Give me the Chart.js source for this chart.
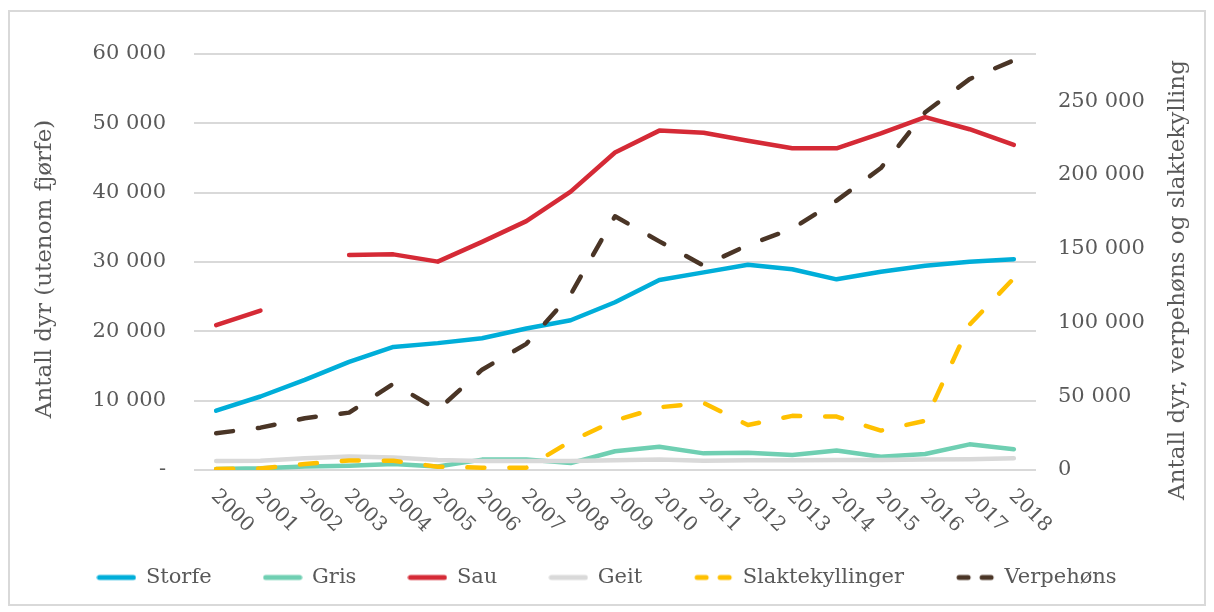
<!DOCTYPE html>
<html>
<head>
<meta charset="utf-8">
<script src="https://cdn.jsdelivr.net/npm/chart.js@4/dist/chart.umd.min.js"></script>
<style>
  html,body{margin:0;padding:0;background:#fff;}
  #wrap{position:relative;width:1214px;height:612px;}
</style>
</head>
<body>
<div id="wrap"><canvas id="chart" width="1214" height="612"></canvas></div>
<script>

// data
const years = ['2000','2001','2002','2003','2004','2005','2006','2007','2008','2009',
  '2010','2011','2012','2013','2014','2015','2016','2017','2018'];

const storfe = [8550,10600,13000,15600,17750,18300,19000,20400,21600,24200,
  27400,28500,29600,28950,27500,28600,29450,30050,30400];

const gris = [150,250,500,620,870,500,1500,1500,1000,2700,
  3350,2400,2500,2150,2800,1900,2300,3700,3000];

const sau = [20900,23000,null,31000,31100,30050,32900,35900,40150,45800,
  48950,48650,47500,46400,46400,48550,50900,49150,46900];

const geit = [1300,1350,1700,1950,1800,1450,1300,1300,1300,1400,
  1500,1350,1400,1400,1450,1450,1500,1550,1700];

const slaktekyllinger = [700,1000,4000,6500,6200,2200,1600,1600,19500,33500,
  42500,45500,30500,36700,36200,26700,33400,98500,130000];

const verpehons = [24900,28700,35100,38900,58500,40700,68000,85500,119000,172000,
  155000,138500,152500,163500,182600,204700,242500,265000,277700];

const leftTicks = [0,10000,20000,30000,40000,50000,60000];
const rightTicks = [0,50000,100000,150000,200000,250000];

const leftTitle = 'Antall dyr (utenom fjørfe)';
const rightTitle = 'Antall dyr, verpehøns og slaktekylling';

const FONT = 'DejaVu Serif';
const TEXT = '#595959';

function fmt(v){
  return String(v).replace(/\B(?=(\d{3})+(?!\d))/g,' ');
}

// little picture for the legend: solid line or two dashes
function sample(color,dashed){
  const c = document.createElement('canvas');
  c.width = 40;
  c.height = 8;
  const g = c.getContext('2d');
  g.strokeStyle = color;
  g.lineWidth = 5;
  g.lineCap = 'round';
  g.beginPath();
  if(dashed){
    g.moveTo(4,4); g.lineTo(13,4);
    g.moveTo(27,4); g.lineTo(36,4);
  }else{
    g.moveTo(3,4); g.lineTo(37,4);
  }
  g.stroke();
  return c;
}

function line(label,data,color,axis,order,dashed){
  return {
    label:label,
    data:data,
    yAxisID:axis,
    borderColor:color,
    backgroundColor:color,
    borderWidth:4.5,
    borderCapStyle:'round',
    borderJoinStyle:'round',
    borderDash:dashed ? [17,25] : [],
    pointRadius:0,
    pointStyle:sample(color,dashed),
    tension:0,
    spanGaps:false,
    order:order
  };
}

// border, x labels and axis titles
const extras = {
  id:'extras',
  beforeDraw(chart){
    const ctx = chart.ctx;
    ctx.save();
    ctx.strokeStyle = '#d9d9d9';
    ctx.lineWidth = 2;
    ctx.strokeRect(9,11,1196,594);
    ctx.restore();
  },
  afterDraw(chart){
    const ctx = chart.ctx;
    const x = chart.scales.x;
    const bottom = chart.chartArea.bottom;
    ctx.save();
    ctx.fillStyle = TEXT;
    ctx.font = '20px "' + FONT + '"';
    ctx.textAlign = 'left';
    ctx.textBaseline = 'middle';
    years.forEach((y,i)=>{
      const px = x.getPixelForTick(i);
      ctx.save();
      ctx.translate(px - 2, bottom + 23);
      ctx.rotate(Math.PI/4);
      ctx.fillText(y,0,0);
      ctx.restore();
    });
    ctx.font = '23px "' + FONT + '"';
    ctx.textAlign = 'center';
    ctx.save();
    ctx.translate(45,269);
    ctx.rotate(-Math.PI/2);
    ctx.fillText(leftTitle,0,0);
    ctx.restore();
    ctx.save();
    ctx.translate(1178,280);
    ctx.rotate(-Math.PI/2);
    ctx.fillText(rightTitle,0,0);
    ctx.restore();
    ctx.restore();
  }
};

new Chart(document.getElementById('chart'),{
  type:'line',
  data:{
    labels:years,
    datasets:[
      line('Storfe',storfe,'#00aed9','y',6,false),
      line('Gris',gris,'#6fcfb2','y',5,false),
      line('Sau',sau,'#d52a36','y',4,false),
      line('Geit',geit,'#d9d9d9','y',3,false),
      line('Slaktekyllinger',slaktekyllinger,'#ffc000','y2',2,true),
      line('Verpehøns',verpehons,'#4a3526','y2',1,true)
    ]
  },
  options:{
    responsive:false,
    animation:false,
    layout:{padding:{top:54,bottom:14,left:0,right:0}},
    plugins:{
      tooltip:{enabled:false},
      legend:{
        position:'bottom',
        labels:{
          usePointStyle:true,
          pointStyleWidth:38,
          boxHeight:20,
          padding:52,
          color:TEXT,
          font:{family:FONT,size:21},
          sort:(a,b)=>a.datasetIndex-b.datasetIndex
        }
      }
    },
    scales:{
      x:{
        offset:true,
        grid:{display:false},
        border:{display:false},
        ticks:{display:false},
        afterFit(s){ s.height = 45; }
      },
      y:{
        position:'left',
        min:0,
        max:60000,
        afterBuildTicks(s){ s.ticks = leftTicks.map(v=>({value:v})); },
        grid:{color:'#d9d9d9',lineWidth:2,drawTicks:false},
        border:{display:false},
        ticks:{
          padding:28,
          color:TEXT,
          font:{family:FONT,size:21},
          callback:v=> v === 0 ? '-' : fmt(v)
        },
        afterFit(s){ s.width = 194; }
      },
      y2:{
        position:'right',
        min:0,
        max:282000,
        afterBuildTicks(s){ s.ticks = rightTicks.map(v=>({value:v})); },
        grid:{display:false,drawTicks:false},
        border:{display:false},
        ticks:{
          padding:22,
          color:TEXT,
          font:{family:FONT,size:21},
          callback:v=> fmt(v)
        },
        afterFit(s){ s.width = 178; }
      }
    }
  },
  plugins:[extras]
});

</script>
</body>
</html>
